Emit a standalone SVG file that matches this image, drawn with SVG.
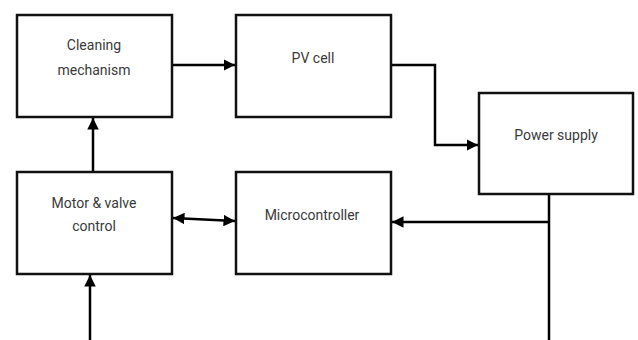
<svg xmlns="http://www.w3.org/2000/svg" width="638" height="340" viewBox="0 0 638 340">
<style>
.box{fill:#fff;stroke:#111;stroke-width:2.5}
.lbl{font-family:Roboto,"Liberation Sans",sans-serif;font-size:14px;fill:#3a3a3a;text-anchor:middle}
.wire{fill:none;stroke:#000;stroke-width:2.5}
</style>
<defs>
<marker id="ah" viewBox="0 0 10 10" refX="10" refY="5" markerWidth="4.6" markerHeight="4.8" markerUnits="strokeWidth" orient="auto-start-reverse">
<path d="M0,0 L10,5 L0,10 z" fill="#000"/>
</marker>
</defs>
<rect width="638" height="340" fill="#fff"/>
<g id="connectors">
<line class="wire" x1="172" y1="65" x2="235" y2="65" marker-end="url(#ah)"/>
<polyline class="wire" points="391,65 435,65 435,145 478,145" marker-end="url(#ah)"/>
<line class="wire" x1="93" y1="172" x2="93" y2="118" marker-end="url(#ah)"/>
<line class="wire" x1="173" y1="218" x2="235" y2="221" marker-start="url(#ah)" marker-end="url(#ah)"/>
<line class="wire" x1="549" y1="194" x2="549" y2="340"/>
<line class="wire" x1="549" y1="222" x2="392" y2="222" marker-end="url(#ah)"/>
<line class="wire" x1="90" y1="340" x2="90" y2="275" marker-end="url(#ah)"/>
</g>
<g id="cleaning">
<rect class="box" x="17" y="15" width="155" height="102"/>
<text class="lbl" x="94" y="50">Cleaning</text>
<text class="lbl" x="94" y="75">mechanism</text>
</g>
<g id="pvcell">
<rect class="box" x="236" y="15" width="155" height="102"/>
<text class="lbl" x="313" y="63">PV cell</text>
</g>
<g id="power">
<rect class="box" x="479" y="93" width="154" height="101"/>
<text class="lbl" x="556" y="140">Power supply</text>
</g>
<g id="motor">
<rect class="box" x="17" y="172" width="155" height="102"/>
<text class="lbl" x="94" y="208">Motor &amp; valve</text>
<text class="lbl" x="94" y="231">control</text>
</g>
<g id="micro">
<rect class="box" x="236" y="172" width="155" height="102"/>
<text class="lbl" x="312" y="220">Microcontroller</text>
</g>
</svg>
